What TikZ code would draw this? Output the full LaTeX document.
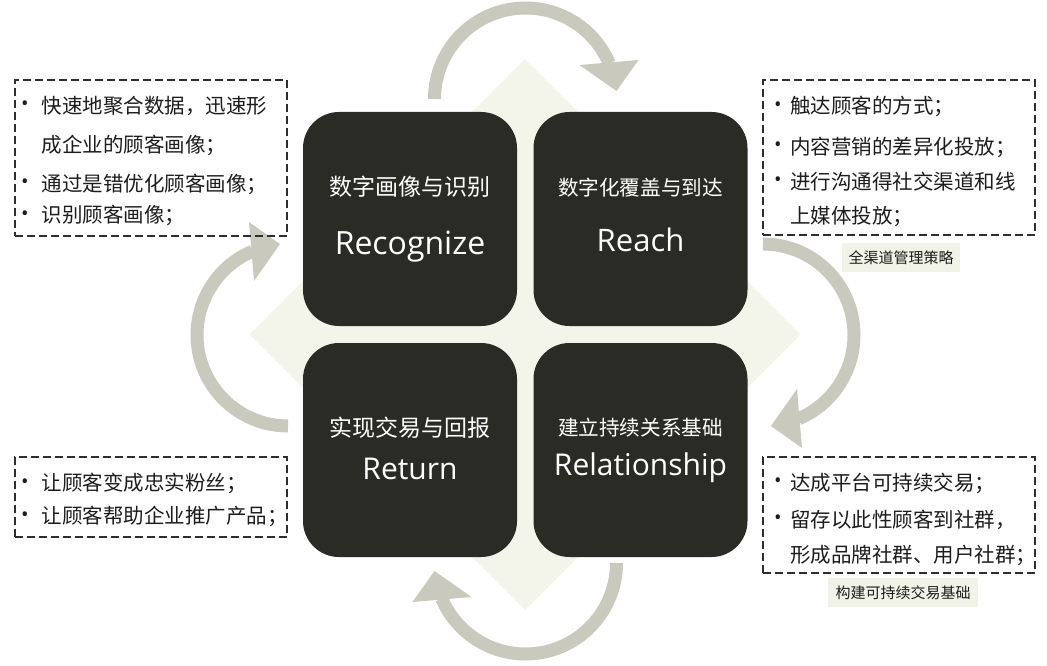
\documentclass[tikz,border=0pt]{standalone}
\usepackage{fontspec}
\setmainfont{Open Sans}
\newfontfamily\cjk{Noto Sans CJK SC}
\definecolor{boxdark}{HTML}{2B2B26}
\definecolor{arrowgray}{HTML}{C9C9BD}
\definecolor{diamondcol}{HTML}{F3F4EA}
\definecolor{dashcol}{HTML}{2E2E2E}
\definecolor{txtcol}{HTML}{1C1C1C}
\definecolor{tagfill}{HTML}{F1F2E8}
\begin{document}
\begin{tikzpicture}[x=1pt,y=-1pt,
  quad/.style={fill=boxdark, rounded corners=36pt, minimum width=214pt, minimum height=214pt, inner sep=0pt},
  cyc/.style={draw=arrowgray, line width=13pt},
  cyctip/.style={fill=arrowgray},
  dbox/.style={draw=dashcol, line width=1.7pt, dash pattern=on 8pt off 4pt, inner sep=0pt},
  side/.style={anchor=west, inner sep=0pt, font=\cjk\fontsize{20.5}{24}\selectfont, text=txtcol},
  bul/.style={inner sep=0pt, font=\fontsize{20}{24}\selectfont, text=txtcol},
  ttl/.style={inner sep=0pt, text=white, font=\cjk\fontsize{23}{28}\selectfont},
  ttlsm/.style={inner sep=0pt, text=white, font=\cjk\fontsize{20.6}{25}\selectfont},
  eng/.style={anchor=base, inner sep=0pt, text=white},
  tag/.style={fill=tagfill, inner sep=0pt, minimum height=29pt, text=txtcol, font=\cjk\fontsize{15}{18}\selectfont}
]
\useasboundingbox (0,0) rectangle (1047,666);

% background diamond
\fill[diamondcol] (525,59) -- (800.5,334.5) -- (525,610) -- (249.5,334.5) -- cycle;

% cycle arrows
\begin{scope}[shift={(763,335)}]
  \draw[cyc] (-90:91) arc[start angle=-90, end angle=67, radius=91];
  \fill[cyctip] (8,91) -- (34,54) -- (39,113) -- cycle;
\end{scope}
\begin{scope}[shift={(525.5,563)}, rotate=-90]
  \draw[cyc] (-90:91) arc[start angle=-90, end angle=67, radius=91];
  \fill[cyctip] (8,91) -- (34,54) -- (39,113) -- cycle;
\end{scope}
\begin{scope}[shift={(288,335)}, rotate=180]
  \draw[cyc] (-90:91) arc[start angle=-90, end angle=67, radius=91];
  \fill[cyctip] (8,91) -- (34,54) -- (39,113) -- cycle;
\end{scope}
\begin{scope}[shift={(525.5,99)}, rotate=90]
  \draw[cyc] (-90:91) arc[start angle=-90, end angle=67, radius=91];
  \fill[cyctip] (8,91) -- (34,54) -- (39,113) -- cycle;
\end{scope}

% four quadrant boxes
\node[quad] (rec) at (410,219) {};
\node[quad] (rea) at (640.5,219) {};
\node[quad] (ret) at (410,450) {};
\node[quad] (rel) at (640.5,450) {};

\node[ttl] (recT) at (410,187) {数字画像与识别};
\node[eng, font=\fontsize{32}{36}\selectfont] (recE) at (410,254) {Recognize};
\node[ttlsm] (reaT) at (640.5,188) {数字化覆盖与到达};
\node[eng, font=\fontsize{31}{36}\selectfont] (reaE) at (640.5,251) {Reach};
\node[ttl] (retT) at (410,428) {实现交易与回报};
\node[eng, font=\fontsize{30}{36}\selectfont] (retE) at (410,479) {Return};
\node[ttlsm] (relT) at (640.5,427.5) {建立持续关系基础};
\node[eng, font=\fontsize{30}{36}\selectfont] (relE) at (640.5,475) {Relationship};

% dashed description boxes
\node[dbox, minimum width=272pt, minimum height=156pt] (d1) at (151,158) {};
\node[dbox, minimum width=272pt, minimum height=155pt] (d2) at (899,157.5) {};
\node[dbox, minimum width=272pt, minimum height=116pt] (d3) at (899,515.3) {};
\node[dbox, minimum width=272pt, minimum height=80pt] (d4) at (151,496.7) {};

% top-left text
\node[bul] (b11) at (25,105.7) {•};
\node[side] (t11) at (41.7,105.7) {快速地聚合数据，迅速形};
\node[side] (t12) at (41.7,145) {成企业的顾客画像；};
\node[bul] (b13) at (25,184) {•};
\node[side] (t13) at (41.7,184) {通过是错优化顾客画像；};
\node[bul] (b14) at (25,215.7) {•};
\node[side] (t14) at (41.7,215.7) {识别顾客画像；};

% top-right text
\node[bul] (b21) at (778,106.7) {•};
\node[side] (t21) at (790,106.7) {触达顾客的方式；};
\node[bul] (b22) at (778,147) {•};
\node[side] (t22) at (790,147) {内容营销的差异化投放；};
\node[bul] (b23) at (778,181.7) {•};
\node[side] (t23) at (790,181.7) {进行沟通得社交渠道和线};
\node[side] (t24) at (790,217) {上媒体投放；};

% bottom-right text
\node[bul] (b31) at (778,483) {•};
\node[side] (t31) at (790,483) {达成平台可持续交易；};
\node[bul] (b32) at (778,520) {•};
\node[side] (t32) at (790,520) {留存以此性顾客到社群，};
\node[side] (t33) at (790,555) {形成品牌社群、用户社群；};

% bottom-left text
\node[bul] (b41) at (25,483.3) {•};
\node[side] (t41) at (41.7,483.3) {让顾客变成忠实粉丝；};
\node[bul] (b42) at (25,516.7) {•};
\node[side] (t42) at (41.7,516.7) {让顾客帮助企业推广产品；};

% tags
\node[tag, minimum width=118pt] (tag1) at (901,257.4) {全渠道管理策略};
\node[tag, minimum width=150pt] (tag2) at (903,592.5) {构建可持续交易基础};
\end{tikzpicture}
\end{document}
